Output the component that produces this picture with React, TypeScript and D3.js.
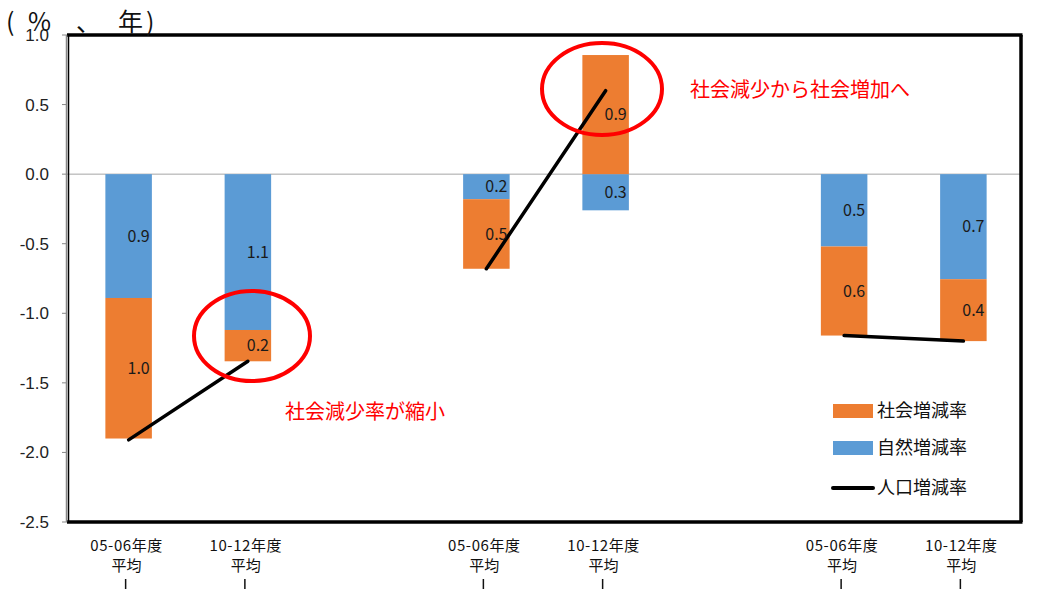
import React from "react";
import * as d3 from "d3";

const categories = ["05-06年度", "10-12年度", "", "05-06年度 ", "10-12年度 ", " ", "05-06年度  ", "10-12年度  "];
const barCats = ["05-06年度", "10-12年度", "05-06年度 ", "10-12年度 ", "05-06年度  ", "10-12年度  "];
const naturalRate = [-0.89, -1.12, -0.18, -0.26, -0.52, -0.755];
const socialRate = [-1.01, -0.225, -0.5, 0.856, -0.64, -0.445];
const naturalLabels = ["0.9", "1.1", "0.2", "0.3", "0.5", "0.7"];
const socialLabels = ["1.0", "0.2", "0.5", "0.9", "0.6", "0.4"];
const popPairs = [[0, 1], [2, 3], [4, 5]];
const popRate = [-1.91, -1.345, -0.68, 0.6, -1.16, -1.2];
const yTicks = [1.0, 0.5, 0.0, -0.5, -1.0, -1.5, -2.0, -2.5];

const FONT = "'Noto Sans CJK JP', 'Noto Sans', sans-serif";
const ORANGE = "#ED7D31";
const BLUE = "#5B9BD5";

export default function App() {
  const W = 1045, H = 589;
  const left = 67, right = 1021, top = 35, bottom = 522;
  const x = d3.scaleBand<string>().domain(categories).range([left + 2, right + 2]).paddingInner(0).paddingOuter(0);
  const y = d3.scaleLinear().domain([-2.5, 1.0]).range([bottom, top]);
  const bw = x.bandwidth() * 0.39;
  const cx = (c: string) => (x(c) as number) + x.bandwidth() / 2;

  return (
    <svg width={W} height={H} style={{ position: "absolute", left: 0, top: 0, background: "#fff" }} fontFamily={FONT}>
      <rect x={0} y={0} width={W} height={H} fill="#fff" />
      <line x1={left} x2={right} y1={y(0)} y2={y(0)} stroke="#a6a6a6" strokeWidth={1} />
      {barCats.map((c, i) => {
        const n = naturalRate[i];
        const s = socialRate[i];
        const nTop = Math.min(0, n), nBot = Math.max(0, n);
        const sStart = s < 0 ? n : 0;
        const sEnd = sStart + s;
        const x0 = cx(c) - bw / 2;
        return (
          <g key={"b" + i}>
            <rect x={x0} width={bw} y={y(nBot)} height={y(nTop) - y(nBot)} fill={BLUE} />
            <rect x={x0} width={bw} y={y(Math.max(sStart, sEnd))} height={Math.abs(y(sStart) - y(sEnd))} fill={ORANGE} />
          </g>
        );
      })}
      {popPairs.map(([a, b], i) => (
        <line key={"l" + i} x1={cx(barCats[a])} y1={y(popRate[a])} x2={cx(barCats[b])} y2={y(popRate[b])} stroke="#000" strokeWidth={3.5} strokeLinecap="round" />
      ))}
      {barCats.map((c, i) => {
        const n = naturalRate[i];
        const s = socialRate[i];
        const sStart = s < 0 ? n : 0;
        return (
          <g key={"t" + i} fontSize={16} fill="#1a1a1a" textAnchor="middle">
            <text x={cx(c) + 10} y={y(n / 2)} dy="0.35em">{naturalLabels[i]}</text>
            <text x={cx(c) + 10} y={y(sStart + s / 2)} dy="0.35em">{socialLabels[i]}</text>
          </g>
        );
      })}
      <line x1={left} x2={right + 1.5} y1={top} y2={top} stroke="#000" strokeWidth={3.5} />
      <line x1={right} x2={right} y1={top} y2={bottom} stroke="#000" strokeWidth={3.5} />
      <line x1={left} x2={right + 1.5} y1={bottom} y2={bottom} stroke="#000" strokeWidth={3.5} />
      <line x1={left + 1.5} x2={left + 1.5} y1={top} y2={bottom} stroke="#000" strokeWidth={1.5} />
      <line x1={left - 0.5} x2={left - 0.5} y1={top} y2={bottom} stroke="#888" strokeWidth={1.5} />
      {yTicks.map((t) => (
        <g key={"y" + t}>
          <line x1={left - 5} x2={left} y1={y(t)} y2={y(t)} stroke="#888" strokeWidth={1} />
          <text x={49} y={y(t)} dy="0.35em" textAnchor="end" fontSize={17} fill="#222" fontFamily="'Liberation Sans', Arial, sans-serif">{t.toFixed(1)}</text>
        </g>
      ))}
      <text y={31} fontSize={25} fill="#111">
        <tspan x={6}>(</tspan>
        <tspan x={28}>%</tspan>
        <tspan x={76}>、</tspan>
        <tspan x={118}>年</tspan>
        <tspan x={146}>)</tspan>
      </text>
      {barCats.map((c, i) => (
        <g key={"x" + i} textAnchor="middle" fontSize={15} fill="#111">
          <text x={cx(c) - 2} y={551} letterSpacing={0.6}>{c.trim()}</text>
          <text x={cx(c) - 2} y={571}>平均</text>
          <line x1={cx(c) - 3} x2={cx(c) - 3} y1={579} y2={589} stroke="#111" strokeWidth={1.5} />
        </g>
      ))}
      <ellipse cx={252} cy={336} rx={58} ry={45} fill="none" stroke="#FF0000" strokeWidth={4} />
      <ellipse cx={602} cy={89} rx={60} ry={46} fill="none" stroke="#FF0000" strokeWidth={4} />
      <text x={285} y={419} fontSize={20} fill="#FF0000">社会減少率が縮小</text>
      <text x={690} y={97} fontSize={20} fill="#FF0000">社会減少から社会増加へ</text>
      <rect x={833} y={404} width={40} height={14} fill={ORANGE} />
      <text x={877} y={411} dy="0.35em" fontSize={18} fill="#111">社会増減率</text>
      <rect x={833} y={441} width={40} height={14} fill={BLUE} />
      <text x={877} y={448} dy="0.35em" fontSize={18} fill="#111">自然増減率</text>
      <line x1={833} x2={873} y1={488} y2={488} stroke="#000" strokeWidth={4} strokeLinecap="round" />
      <text x={877} y={488} dy="0.35em" fontSize={18} fill="#111">人口増減率</text>
    </svg>
  );
}
